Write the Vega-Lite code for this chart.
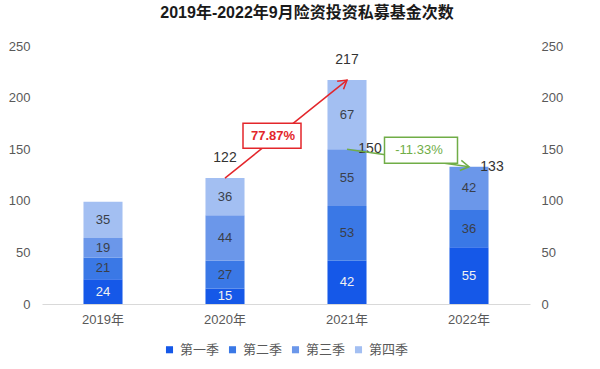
{
  "$schema": "https://vega.github.io/schema/vega-lite/v6.json",
  "width": 488,
  "height": 258,
  "autosize": {"type": "none"},
  "padding": {"left": 42, "top": 46, "right": 70, "bottom": 65},
  "background": "white",
  "config": {
    "view": {"stroke": null},
    "font": "Liberation Sans, Noto Sans CJK SC",
    "text": {"font": "Liberation Sans, Noto Sans CJK SC"}
  },
  "title": {
    "text": "2019年-2022年9月险资投资私募基金次数",
    "fontSize": 16,
    "fontWeight": "bold",
    "color": "#1a1a1a",
    "anchor": "middle",
    "dx": 21,
    "offset": 19,
    "font": "Liberation Sans, Noto Sans CJK SC"
  },
  "datasets": {
    "quarters": [
      {"year": "2019年", "q": "第一季", "o": 1, "value": 24},
      {"year": "2019年", "q": "第二季", "o": 2, "value": 21},
      {"year": "2019年", "q": "第三季", "o": 3, "value": 19},
      {"year": "2019年", "q": "第四季", "o": 4, "value": 35},
      {"year": "2020年", "q": "第一季", "o": 1, "value": 15},
      {"year": "2020年", "q": "第二季", "o": 2, "value": 27},
      {"year": "2020年", "q": "第三季", "o": 3, "value": 44},
      {"year": "2020年", "q": "第四季", "o": 4, "value": 36},
      {"year": "2021年", "q": "第一季", "o": 1, "value": 42},
      {"year": "2021年", "q": "第二季", "o": 2, "value": 53},
      {"year": "2021年", "q": "第三季", "o": 3, "value": 55},
      {"year": "2021年", "q": "第四季", "o": 4, "value": 67},
      {"year": "2022年", "q": "第一季", "o": 1, "value": 55},
      {"year": "2022年", "q": "第二季", "o": 2, "value": 36},
      {"year": "2022年", "q": "第三季", "o": 3, "value": 42}
    ]
  },
  "resolve": {"axis": {"y": "independent"}},
  "layer": [
    {
      "data": {"name": "quarters"},
      "mark": {"type": "bar"},
      "encoding": {
        "x": {
          "field": "year", "type": "nominal",
          "scale": {"domain": ["2019年", "2020年", "2021年", "2022年"], "paddingInner": 0.68, "paddingOuter": 0.34},
          "axis": {"title": null, "labelAngle": 0, "ticks": false, "domainColor": "#d9d9d9", "labelFontSize": 13, "labelColor": "#595959", "labelPadding": 9}
        },
        "y": {
          "field": "value", "type": "quantitative", "stack": "zero",
          "scale": {"domain": [0, 250], "nice": false},
          "axis": {"title": null, "grid": false, "domain": false, "ticks": false, "values": [0, 50, 100, 150, 200, 250], "labelFontSize": 13, "labelColor": "#595959", "labelPadding": 12}
        },
        "order": {"field": "o", "type": "quantitative", "sort": "ascending"},
        "color": {
          "field": "q", "type": "nominal",
          "scale": {"domain": ["第一季", "第二季", "第三季", "第四季"], "range": ["#1558e8", "#3a78e6", "#6b97ea", "#a3bff2"]},
          "legend": {"title": null, "orient": "none", "legendX": 121, "legendY": 297, "direction": "horizontal", "symbolType": "square", "symbolSize": 50, "labelFontSize": 13, "labelColor": "#595959", "columnPadding": 6, "labelOffset": 4}
        }
      }
    },
    {
      "data": {"name": "quarters"},
      "mark": {"type": "text", "fontSize": 13, "baseline": "middle"},
      "encoding": {
        "x": {"field": "year", "type": "nominal"},
        "y": {"field": "value", "type": "quantitative", "stack": "zero", "bandPosition": 0.5, "scale": {"domain": [0, 250], "nice": false}, "axis": null},
        "order": {"field": "o", "type": "quantitative", "sort": "ascending"},
        "text": {"field": "value", "type": "quantitative"},
        "color": {"condition": {"test": "datum.q == '第一季'", "value": "#f2f2f2"}, "value": "#3a3f4a"}
      }
    },
    {
      "data": {"values": [
        {"year": "2020年", "total": 122},
        {"year": "2021年", "total": 217}
      ]},
      "mark": {"type": "text", "fontSize": 14, "baseline": "middle", "dy": -20, "color": "#333333"},
      "encoding": {
        "x": {"field": "year", "type": "nominal"},
        "y": {"field": "total", "type": "quantitative", "scale": {"domain": [0, 250], "nice": false}, "axis": {"orient": "right", "title": null, "grid": false, "domain": false, "ticks": false, "values": [0, 50, 100, 150, 200, 250], "labelFontSize": 13, "labelColor": "#595959", "labelPadding": 11}},
        "text": {"field": "total", "type": "quantitative"}
      }
    },
    {
      "data": {"values": [
        {"year": "2021年", "v": 150},
        {"year": "2022年", "v": 133}
      ]},
      "mark": {"type": "text", "fontSize": 14, "baseline": "middle", "dx": 23, "color": "#333333"},
      "encoding": {
        "x": {"field": "year", "type": "nominal"},
        "y": {"field": "v", "type": "quantitative", "scale": {"domain": [0, 250], "nice": false}, "axis": null},
        "text": {"field": "v", "type": "quantitative"}
      }
    },
    {
      "data": {"values": [{"from": "2020年", "to": "2021年", "v0": 122, "v1": 217}]},
      "mark": {"type": "rule", "color": "#e3262b", "strokeWidth": 1.5},
      "encoding": {
        "x": {"field": "from", "type": "nominal"},
        "x2": {"field": "to"},
        "y": {"field": "v0", "type": "quantitative", "scale": {"domain": [0, 250], "nice": false}, "axis": null},
        "y2": {"field": "v1"}
      }
    },
    {
      "data": {"values": [{"from": "2020年", "to": "2021年", "v0": 122, "v1": 217}]},
      "mark": {"type": "point", "shape": "M-1,-0.6L0,0L-1,0.6", "filled": false, "size": 290, "angle": 321.5, "color": "#e3262b", "strokeWidth": 1.5, "opacity": 1},
      "encoding": {
        "x": {"field": "to", "type": "nominal"},
        "y": {"field": "v1", "type": "quantitative", "scale": {"domain": [0, 250], "nice": false}, "axis": null}
      }
    },
    {
      "data": {"values": [{"from": "2021年", "to": "2022年", "v0": 150, "v1": 133}]},
      "mark": {"type": "rule", "color": "#70ad47", "strokeWidth": 1.5},
      "encoding": {
        "x": {"field": "from", "type": "nominal"},
        "x2": {"field": "to"},
        "y": {"field": "v0", "type": "quantitative", "scale": {"domain": [0, 250], "nice": false}, "axis": null},
        "y2": {"field": "v1"}
      }
    },
    {
      "data": {"values": [{"from": "2021年", "to": "2022年", "v0": 150, "v1": 133}]},
      "mark": {"type": "point", "shape": "M-1,-0.6L0,0L-1,0.6", "filled": false, "size": 290, "angle": 8.4, "color": "#70ad47", "strokeWidth": 1.5, "opacity": 1},
      "encoding": {
        "x": {"field": "to", "type": "nominal"},
        "y": {"field": "v1", "type": "quantitative", "scale": {"domain": [0, 250], "nice": false}, "axis": null}
      }
    },
    {
      "data": {"values": [{"year": "2020年", "pos": 163, "label": "77.87%"}]},
      "mark": {"type": "point", "shape": "M-1,-0.431H1V0.431H-1Z", "size": 3364, "filled": true, "fill": "white", "stroke": "#e3262b", "strokeWidth": 1.5, "opacity": 1, "xOffset": 47},
      "encoding": {
        "x": {"field": "year", "type": "nominal"},
        "y": {"field": "pos", "type": "quantitative", "scale": {"domain": [0, 250], "nice": false}, "axis": null}
      }
    },
    {
      "data": {"values": [{"year": "2020年", "pos": 163, "label": "77.87%"}]},
      "mark": {"type": "text", "fontSize": 13, "fontWeight": "bold", "color": "#e3262b", "baseline": "middle", "xOffset": 48},
      "encoding": {
        "x": {"field": "year", "type": "nominal"},
        "y": {"field": "pos", "type": "quantitative", "scale": {"domain": [0, 250], "nice": false}, "axis": null},
        "text": {"field": "label"}
      }
    },
    {
      "data": {"values": [{"year": "2021年", "pos": 149, "label": "-11.33%"}]},
      "mark": {"type": "point", "shape": "M-1,-0.356H1V0.356H-1Z", "size": 5329, "filled": true, "fill": "white", "stroke": "#70ad47", "strokeWidth": 1.5, "opacity": 1, "xOffset": 74},
      "encoding": {
        "x": {"field": "year", "type": "nominal"},
        "y": {"field": "pos", "type": "quantitative", "scale": {"domain": [0, 250], "nice": false}, "axis": null}
      }
    },
    {
      "data": {"values": [{"year": "2021年", "pos": 149, "label": "-11.33%"}]},
      "mark": {"type": "text", "fontSize": 13, "color": "#70ad47", "baseline": "middle", "xOffset": 72},
      "encoding": {
        "x": {"field": "year", "type": "nominal"},
        "y": {"field": "pos", "type": "quantitative", "scale": {"domain": [0, 250], "nice": false}, "axis": null},
        "text": {"field": "label"}
      }
    }
  ]
}
